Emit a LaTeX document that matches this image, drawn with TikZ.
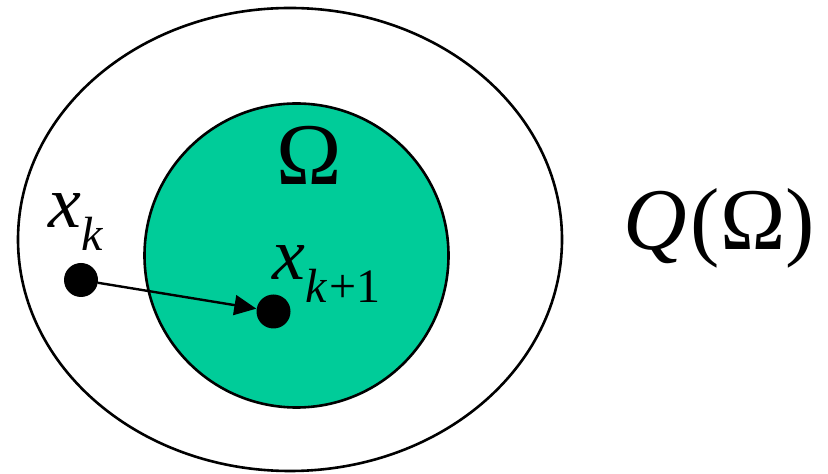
\documentclass[tikz,border=0pt]{standalone}
\usepackage{fontspec}
\setmainfont{Liberation Serif}
\usetikzlibrary{arrows.meta}
\definecolor{setgreen}{RGB}{0,204,153}
\newcommand{\lowsub}[1]{\raisebox{-.3em}{\fontsize{24}{28}\selectfont #1}}

\begin{document}
\begin{tikzpicture}[x=.5pt, y=-.5pt, every node/.style={font=\fontsize{37}{44}\selectfont, inner sep=0pt}, line cap=round, line join=round]
  \tikzset{rim/.style={draw=black, line width=1.3pt}, dot/.style={circle, fill=black, minimum size=17pt}, jump/.style={-{Triangle[length=11pt, width=10pt]}, line width=1.2pt}, biglabel/.style={font=\fontsize{44}{52}\selectfont}}
  \useasboundingbox (0,0) rectangle (828,474);

  % Q(Omega): the outer region, and Omega: the shaded disc inside it
  \draw[rim] (290,239.5) ellipse [x radius=136pt, y radius=115.75pt];
  \draw[rim, fill=setgreen] (296.5,255.5) circle [radius=76pt];
  \node[biglabel, anchor=base] (omega) at (309,185) {Ω};
  \node[biglabel, anchor=base west] (qlabel) at (623,250) {\textit{Q}\kern2pt(Ω)};

  % the step from x_k into Omega
  \node[dot] (xk) at (81,280) {};
  \node[dot] (xnext) at (273.5,311.5) {};
  \draw[jump] (xk) -- (xnext);
  \node[anchor=base west] (xklabel) at (48,228) {\textit{x}\lowsub{\textit{k}}};
  \node[anchor=base west] (xnextlabel) at (272,280) {\textit{x}\lowsub{\textit{k}\kern1pt+1}};
\end{tikzpicture}
\end{document}
